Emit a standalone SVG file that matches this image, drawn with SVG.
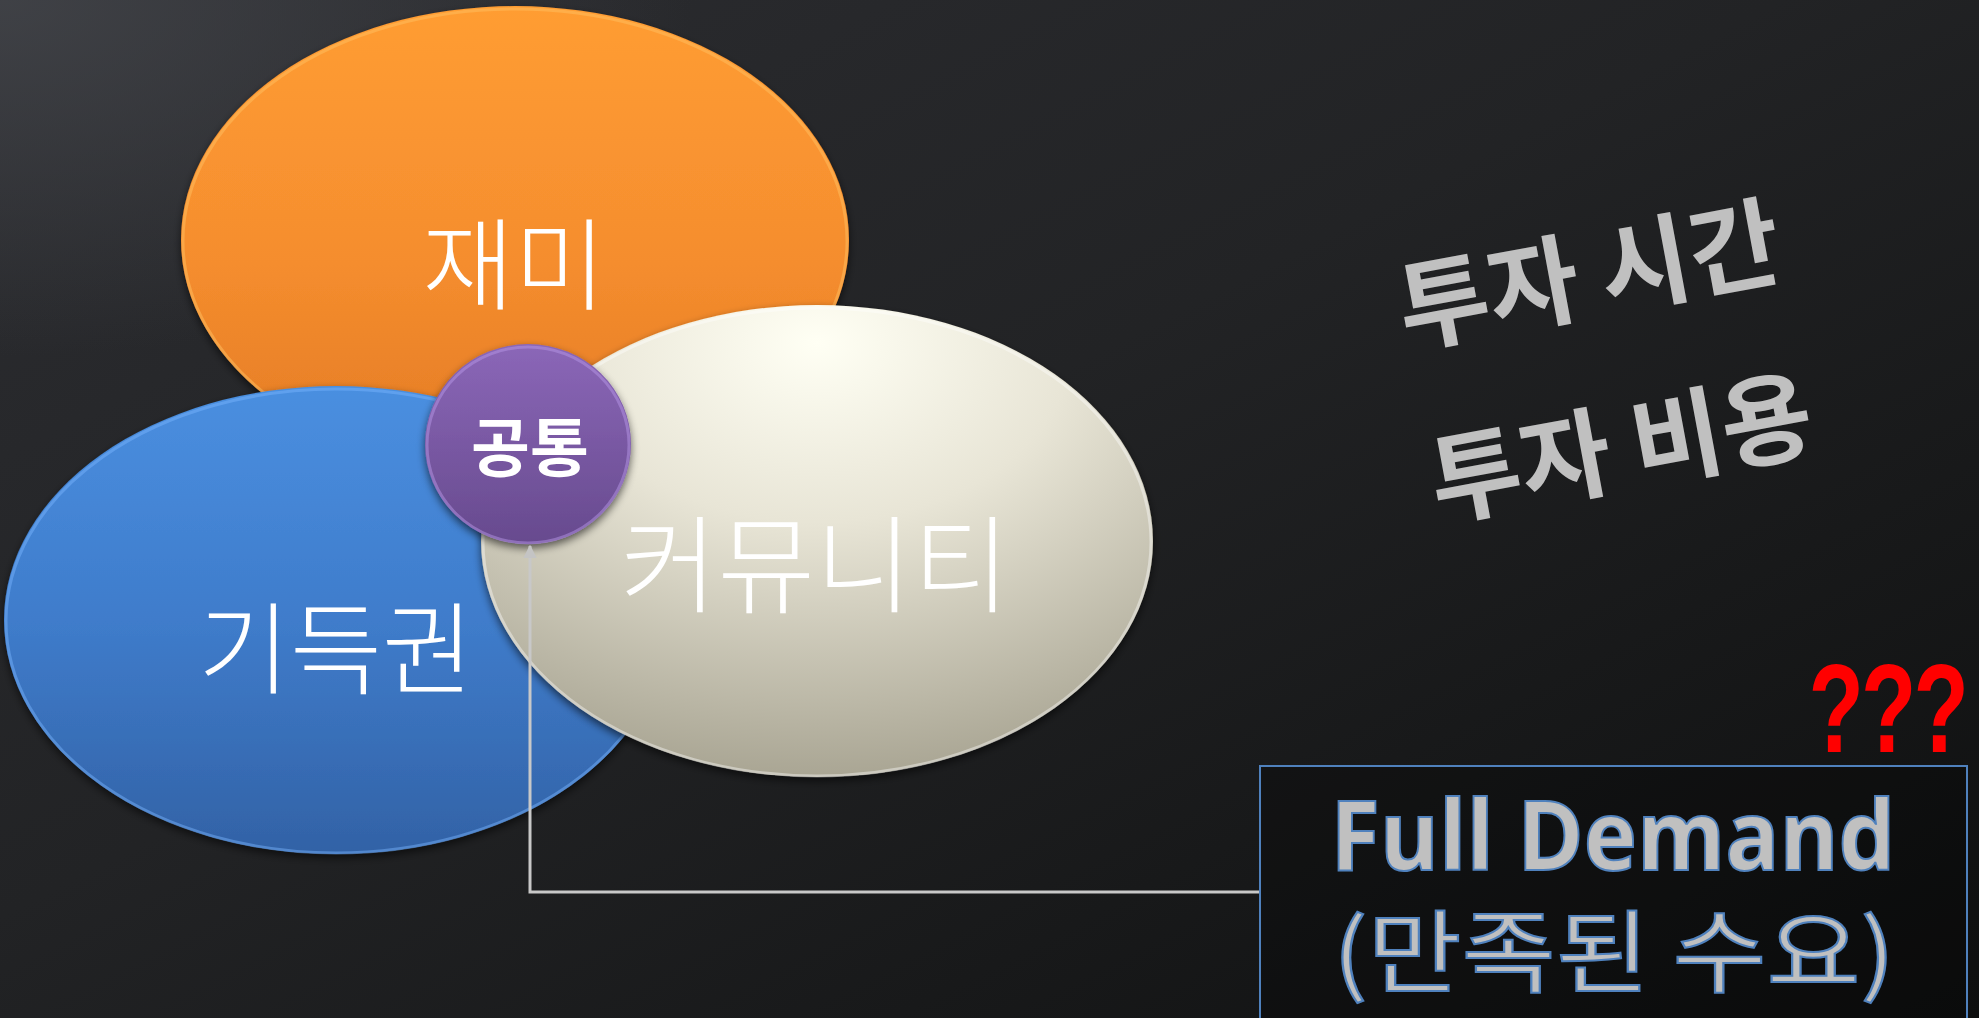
<svg xmlns="http://www.w3.org/2000/svg" width="1979" height="1018" viewBox="0 0 1979 1018">
<defs>
<linearGradient id="bg" x1="0" y1="0" x2="1" y2="1">
<stop offset="0" stop-color="#2c2d31"/>
<stop offset="0.45" stop-color="#222325"/>
<stop offset="1" stop-color="#0e0f0f"/>
</linearGradient>
<radialGradient id="bgHi" cx="0" cy="0" r="0.35">
<stop offset="0" stop-color="#44464b" stop-opacity="0.8"/>
<stop offset="1" stop-color="#44464b" stop-opacity="0"/>
</radialGradient>
<linearGradient id="gOrange" x1="0" y1="0" x2="0" y2="1">
<stop offset="0" stop-color="#ff9d33"/>
<stop offset="0.55" stop-color="#f58d2e"/>
<stop offset="1" stop-color="#e27a24"/>
</linearGradient>
<linearGradient id="gBlue" x1="0" y1="0" x2="0" y2="1">
<stop offset="0" stop-color="#4a8fe0"/>
<stop offset="0.5" stop-color="#3f7ccb"/>
<stop offset="1" stop-color="#3262a6"/>
</linearGradient>
<radialGradient id="gCream" cx="0.5" cy="0.08" r="0.95">
<stop offset="0" stop-color="#fffff4"/>
<stop offset="0.4" stop-color="#e8e5d6"/>
<stop offset="1" stop-color="#a6a290"/>
</radialGradient>
<linearGradient id="gPurple" x1="0" y1="0" x2="0" y2="1">
<stop offset="0" stop-color="#8b67b8"/>
<stop offset="1" stop-color="#674a8e"/>
</linearGradient>
<filter id="shadow" x="-10%" y="-10%" width="120%" height="125%">
<feGaussianBlur in="SourceAlpha" stdDeviation="4"/>
<feOffset dx="0" dy="4" result="b"/>
<feComponentTransfer><feFuncA type="linear" slope="0.6"/></feComponentTransfer>
<feMerge><feMergeNode/><feMergeNode in="SourceGraphic"/></feMerge>
</filter>
<marker id="arrow" viewBox="0 0 10 10" refX="9" refY="5" markerWidth="4.5" markerHeight="4.5" orient="auto-start-reverse">
<path d="M0,0 L10,5 L0,10 z" fill="#c4c4c4"/>
</marker>
<style>
.lbl{font-family:"Noto Sans CJK KR","Noto Sans",sans-serif;fill:#ffffff;text-anchor:middle}
.big{font-size:100px;font-weight:300}
.rot{font-family:"Noto Sans CJK KR","Noto Sans",sans-serif;font-size:99px;font-weight:bold;fill:#c0c0c0;text-anchor:middle}
.rim{fill:none;stroke-width:3}
</style>
</defs>
<rect x="0" y="0" width="1979" height="1018" fill="url(#bg)"/>
<rect x="0" y="0" width="1979" height="1018" fill="url(#bgHi)"/>

<g id="node-fun">
<ellipse cx="515" cy="240" rx="334" ry="234" fill="url(#gOrange)" filter="url(#shadow)"/>
<ellipse class="rim" cx="515" cy="241" rx="332" ry="232" stroke="#ffc060" stroke-opacity="0.5"/>
<text class="lbl big" x="514" y="302">재미</text>
</g>

<g id="node-vested">
<ellipse cx="336" cy="620" rx="332" ry="234" fill="url(#gBlue)" filter="url(#shadow)"/>
<ellipse class="rim" cx="336" cy="621" rx="330" ry="232" stroke="#7ab6ff" stroke-opacity="0.45"/>
<text class="lbl big" x="336" y="686" font-size="104">기득권</text>
</g>

<g id="node-community">
<ellipse cx="817" cy="541" rx="336" ry="236" fill="url(#gCream)" filter="url(#shadow)"/>
<ellipse class="rim" cx="817" cy="542" rx="334" ry="234" stroke="#ffffff" stroke-opacity="0.4"/>
<text class="lbl big" x="815" y="604" style="font-size:106px">커뮤니티</text>
</g>

<g id="node-common">
<ellipse cx="528" cy="444" rx="103" ry="100" fill="url(#gPurple)" filter="url(#shadow)"/>
<ellipse class="rim" cx="528" cy="445" rx="101" ry="98" stroke="#b595e6" stroke-opacity="0.5"/>
<text class="lbl" x="530" y="471" font-size="64" font-weight="bold">공통</text>
</g>

<g id="connectors">
<path d="M1260,892 L530,892 L530,546" fill="none" stroke="#c8c8c8" stroke-width="3" marker-end="url(#arrow)"/>
</g>

<g id="note-investment">
<g transform="translate(1589,275) rotate(-10.5)">
<text class="rot" x="0" y="36">투자 시간</text>
<text class="rot" x="0" y="212">투자 비용</text>
</g>
</g>

<g id="node-full-demand">
<rect x="1260" y="766" width="707" height="270" fill="#000000" fill-opacity="0.25" stroke="#4f81bd" stroke-width="2"/>
<text x="1613" y="870" text-anchor="middle" font-family="'Open Sans','Noto Sans',sans-serif" font-weight="bold" font-size="96" textLength="565" lengthAdjust="spacingAndGlyphs" fill="#c0c0c0" stroke="#4f81bd" stroke-width="2">Full Demand</text>
<text x="1614" y="985" text-anchor="middle" font-family="'Noto Sans CJK KR','Noto Sans',sans-serif" font-size="90" textLength="562" lengthAdjust="spacingAndGlyphs" fill="#c0c0c0" stroke="#4f81bd" stroke-width="2">(만족된 수요)</text>
</g>

<g id="note-question">
<text transform="translate(1966,752) scale(0.72,1)" x="0" y="0" text-anchor="end" font-family="'Liberation Sans',Arial,sans-serif" font-weight="bold" font-size="126" letter-spacing="-4" fill="#ff0000">???</text>
</g>
</svg>
